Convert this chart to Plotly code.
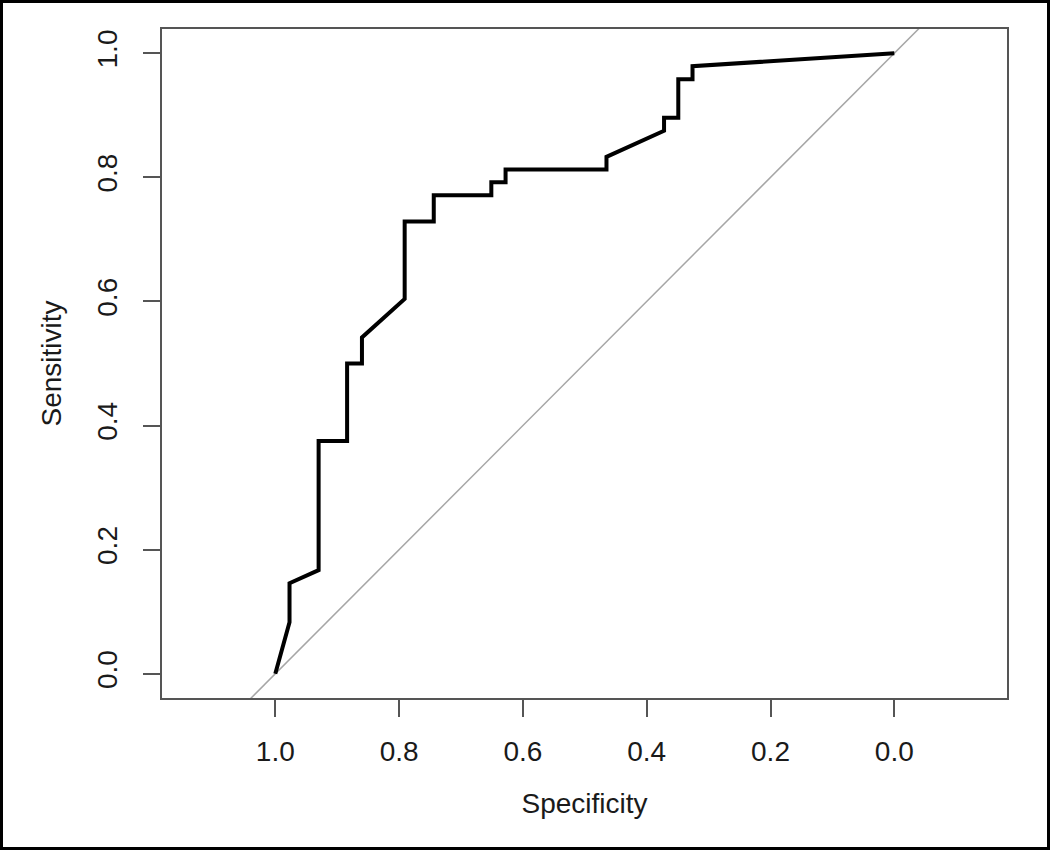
import plotly.graph_objects as go

# ROC curve points (specificity, sensitivity)
specificity = [1.0, 0.977, 0.977, 0.930, 0.930, 0.884, 0.884, 0.860, 0.860, 0.791,
               0.791, 0.744, 0.744, 0.651, 0.651, 0.628, 0.628, 0.465, 0.465, 0.372,
               0.372, 0.349, 0.349, 0.326, 0.326, 0.0]
sensitivity = [0.0, 0.083, 0.146, 0.167, 0.375, 0.375, 0.500, 0.500, 0.542, 0.604,
               0.729, 0.729, 0.771, 0.771, 0.792, 0.792, 0.8125, 0.8125, 0.833, 0.875,
               0.896, 0.896, 0.958, 0.958, 0.979, 1.0]

tick_vals = [0.0, 0.2, 0.4, 0.6, 0.8, 1.0]
tick_text = ["0.0", "0.2", "0.4", "0.6", "0.8", "1.0"]

x_range = [1.183, -0.182]
y_range = [-0.039, 1.039]

# chance diagonal: sensitivity = 1 - specificity
diag_intercept = 1.0
diag_slope = -1.0
diag_x = [x_range[0], x_range[1]]
diag_y = [diag_intercept + diag_slope * v for v in diag_x]

W, H = 1050, 850
ml, mr, mt, mb = 162, 43, 29, 152
pw, ph = W - ml - mr, H - mt - mb

FONT = "Liberation Sans, Arial, Helvetica, sans-serif"
TXT = "#1a1a1a"
AX = "#555555"

fig = go.Figure()
fig.add_trace(go.Scatter(x=diag_x, y=diag_y, mode="lines",
                         line=dict(color="#a6a6a6", width=1.5),
                         hoverinfo="skip", showlegend=False))
fig.add_trace(go.Scatter(x=specificity, y=sensitivity, mode="lines",
                         line=dict(color="black", width=4),
                         showlegend=False))

fig.update_layout(
    width=W, height=H,
    margin=dict(l=ml, r=mr, t=mt, b=mb),
    paper_bgcolor="white", plot_bgcolor="white",
    font=dict(family=FONT, size=28, color=TXT),
    xaxis=dict(range=x_range, tickvals=tick_vals, ticktext=tick_text,
               showgrid=False, zeroline=False, showline=True, mirror=True,
               linecolor=AX, linewidth=2, ticks="outside", ticklen=17,
               tickwidth=2, tickcolor=AX, ticklabelstandoff=10,
               tickfont=dict(size=28, color=TXT),
               title=dict(text="Specificity", font=dict(size=28, color=TXT), standoff=28)),
    yaxis=dict(range=y_range, tickvals=tick_vals, ticktext=tick_text,
               showgrid=False, zeroline=False, showline=True, mirror=True,
               linecolor=AX, linewidth=2, ticks="outside", ticklen=17,
               tickwidth=2, tickcolor=AX, tickangle=-90, ticklabelstandoff=15,
               tickfont=dict(size=28, color=TXT),
               title=dict(text="Sensitivity", font=dict(size=28, color=TXT), standoff=22)),
)

# outer frame around the whole image
fig.add_shape(type="rect", xref="paper", yref="paper",
              x0=-(ml - 1.5) / pw, x1=1 + (mr - 1.5) / pw,
              y0=-(mb - 1.5) / ph, y1=1 + (mt - 1.5) / ph,
              line=dict(color="black", width=3), fillcolor="rgba(0,0,0,0)")

fig.write_html("out.html",
               config={"displayModeBar": False},
               post_script="document.body.style.margin='0';document.body.style.overflow='hidden';")
